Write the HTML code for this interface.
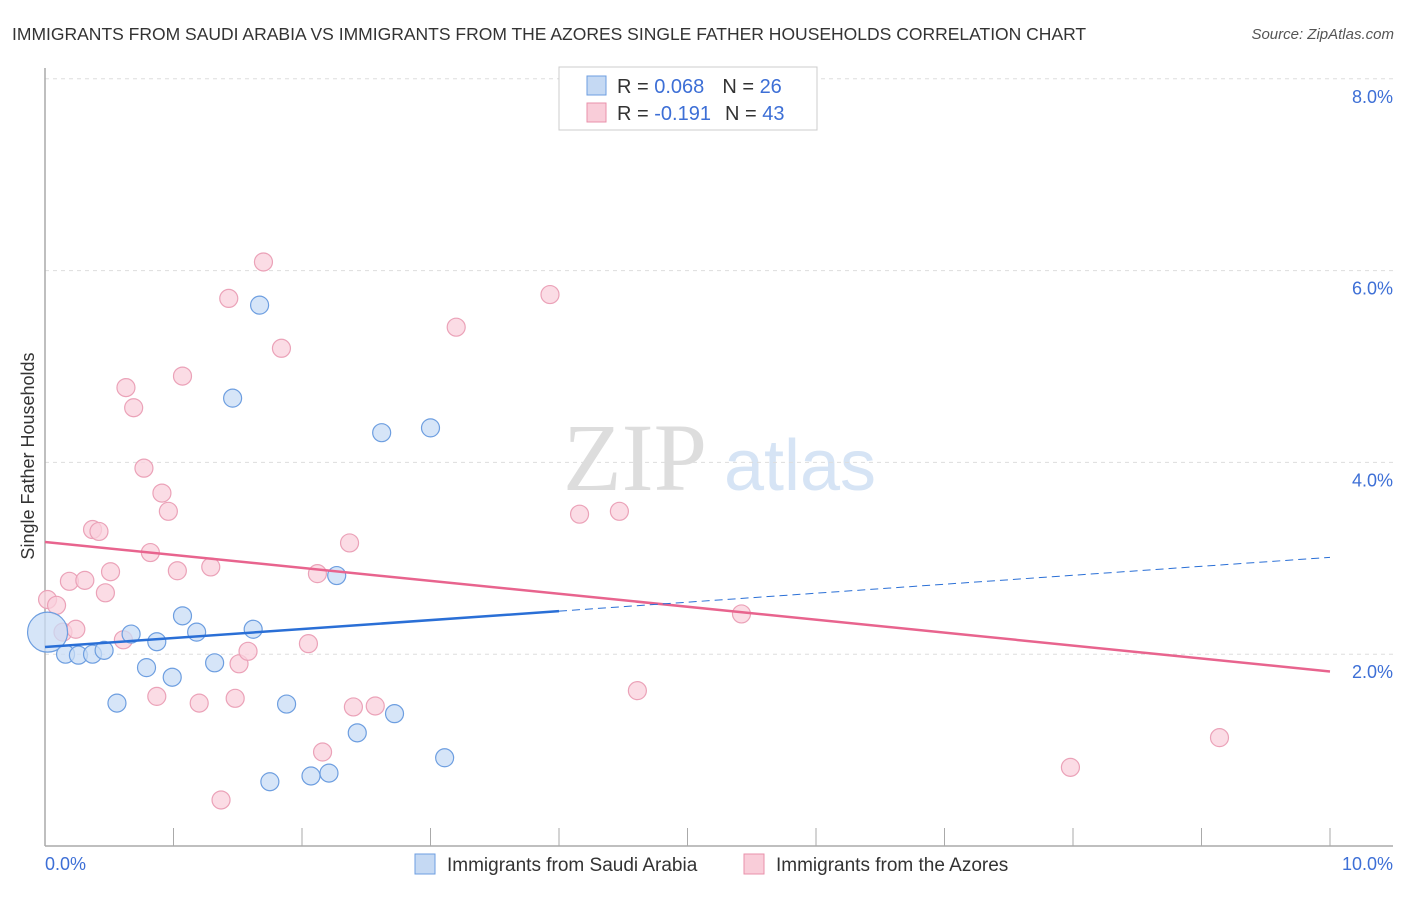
<!DOCTYPE html>
<html><head><meta charset="utf-8"><style>
body{margin:0;background:#fff;font-family:"Liberation Sans",sans-serif}
svg text{font-family:"Liberation Sans",sans-serif}
</style></head><body>
<svg id="chart" width="1406" height="892">
<text x="12" y="40" font-size="17.5" fill="#333">IMMIGRANTS FROM SAUDI ARABIA VS IMMIGRANTS FROM THE AZORES SINGLE FATHER HOUSEHOLDS CORRELATION CHART</text>
<text x="1394" y="39" font-size="15" fill="#555" font-style="italic" text-anchor="end">Source: ZipAtlas.com</text>
<g>
<text x="635" y="490" font-size="96" fill="#ddd" text-anchor="middle" font-family="Liberation Serif" style="font-family:'Liberation Serif',serif">ZIP</text>
<text x="800" y="490" font-size="72" fill="#d6e4f5" text-anchor="middle">atlas</text>
</g>
<g id="grid"></g>
<g id="axes"></g>
<g id="marks"></g>
<text transform="translate(34,456) rotate(-90)" font-size="18" fill="#333" text-anchor="middle">Single Father Households</text>
<g>
<rect x="559" y="67" width="258" height="63" fill="#fff" stroke="#ccc"/>
<rect x="587" y="76" width="19" height="19" fill="#c5d9f3" stroke="#6d9ee0"/>
<rect x="587" y="103" width="19" height="19" fill="#f9cdd9" stroke="#e991ab"/>
<text x="617" y="93" font-size="20" fill="#333">R = <tspan fill="#3d6fd6">0.068</tspan><tspan dx="18">N = </tspan><tspan fill="#3d6fd6">26</tspan></text>
<text x="617" y="120" font-size="20" fill="#333">R = <tspan fill="#3d6fd6">-0.191</tspan><tspan dx="14">N = </tspan><tspan fill="#3d6fd6">43</tspan></text>
</g>
<g>
<rect x="415" y="854" width="20" height="20" fill="#c5d9f3" stroke="#6d9ee0"/>
<text x="447" y="871" font-size="19" fill="#333">Immigrants from Saudi Arabia</text>
<rect x="744" y="854" width="20" height="20" fill="#f9cdd9" stroke="#e991ab"/>
<text x="776" y="871" font-size="19" fill="#333">Immigrants from the Azores</text>
</g>
</svg>
<script>
const blueX=[0.02,0.16,0.26,0.37,0.46,0.67,0.87,1.07,1.18,1.32,0.79,0.99,0.56,1.62,2.27,1.67,1.46,2.62,3.00,1.88,2.72,2.43,3.11,1.75,2.07,2.21];
const blueY=[2.23,2.00,1.99,2.00,2.04,2.21,2.13,2.40,2.23,1.91,1.86,1.76,1.49,2.26,2.82,5.64,4.67,4.31,4.36,1.48,1.38,1.18,0.92,0.67,0.73,0.76];
const pinkX=[0.02,0.09,0.14,0.24,0.19,0.31,0.47,0.51,0.37,0.42,0.82,1.03,1.29,0.61,0.87,1.20,1.48,1.51,1.58,2.05,2.12,2.37,0.91,0.96,0.77,0.63,0.69,1.07,1.43,1.70,1.84,3.20,3.93,4.16,4.47,5.42,4.61,2.16,2.40,2.57,1.37,7.98,9.14];
const pinkY=[2.57,2.51,2.23,2.26,2.76,2.77,2.64,2.86,3.30,3.28,3.06,2.87,2.91,2.15,1.56,1.49,1.54,1.90,2.03,2.11,2.84,3.16,3.68,3.49,3.94,4.78,4.57,4.90,5.71,6.09,5.19,5.41,5.75,3.46,3.49,2.42,1.62,0.98,1.45,1.46,0.48,0.82,1.13];
const blueTrend=[2.075,3.01];
const pinkTrend=[3.17,1.82];
const yTicks=[2,4,6,8];
const xTickLabels=["0.0%","10.0%"];
const NS="http://www.w3.org/2000/svg";
const sx=v=>45+v*128.5, sy=v=>846-v*95.9;
function mk(tag,attrs,parent){const e=document.createElementNS(NS,tag);for(const k in attrs)e.setAttribute(k,attrs[k]);document.getElementById(parent).appendChild(e);return e;}
yTicks.forEach(t=>{
 const l=mk('line',{x1:45,x2:1393,y1:sy(t),y2:sy(t),stroke:'#ddd','stroke-dasharray':'4,4'},'grid');
 
 
 const tx=mk('text',{x:1393,y:sy(t)+24,'font-size':18,fill:'#3d6fd6','text-anchor':'end'},'axes');
 tx.textContent=t.toFixed(1)+'%';
 
 
});
const ax=mk('line',{x1:45,x2:45,y1:68,y2:846,stroke:'#aaa','stroke-width':1.5},'axes');


const bx=mk('line',{x1:45,x2:1393,y1:846,y2:846,stroke:'#aaa','stroke-width':1.5},'axes');


for(let i=1;i<=10;i++){
 const tk=mk('line',{x1:sx(i),x2:sx(i),y1:828,y2:846,stroke:'#aaa'},'axes');
 
 
}
[[0,'start',45],[10,'end',1393]].forEach((d,i)=>{
 const tx=mk('text',{x:d[2],y:870,'font-size':18,fill:'#3d6fd6','text-anchor':d[1]},'axes');
 tx.textContent=xTickLabels[i];
 
 
});
function dot(x,y,r,fill,stroke){
 const c=mk('circle',{cx:sx(x),cy:sy(y),r:r,fill:fill,'fill-opacity':0.75,stroke:stroke,'stroke-width':1.2},'marks');
 return c;
}
pinkX.forEach((x,i)=>{
 const c=dot(x,pinkY[i],9,'#f9d0dc','#eba2b8');
 
 
});
blueX.forEach((x,i)=>{
 const c=dot(x,blueY[i],i===0?20:9,'#c8dcf5','#6d9ee0');
 
 
});
const bAt=x=>blueTrend[0]+(blueTrend[1]-blueTrend[0])*x/10;
const pAt=x=>pinkTrend[0]+(pinkTrend[1]-pinkTrend[0])*x/10;
const pl=mk('line',{x1:sx(0),y1:sy(pAt(0)),x2:sx(10),y2:sy(pAt(10)),stroke:'#e8648e','stroke-width':2.5},'marks');


const bl=mk('line',{x1:sx(0),y1:sy(bAt(0)),x2:sx(4),y2:sy(bAt(4)),stroke:'#2a6fd6','stroke-width':2.5},'marks');


const bd=mk('line',{x1:sx(4),y1:sy(bAt(4)),x2:sx(10),y2:sy(bAt(10)),stroke:'#2a6fd6','stroke-width':1,'stroke-dasharray':'8,5'},'marks');


</script>
</body></html>
